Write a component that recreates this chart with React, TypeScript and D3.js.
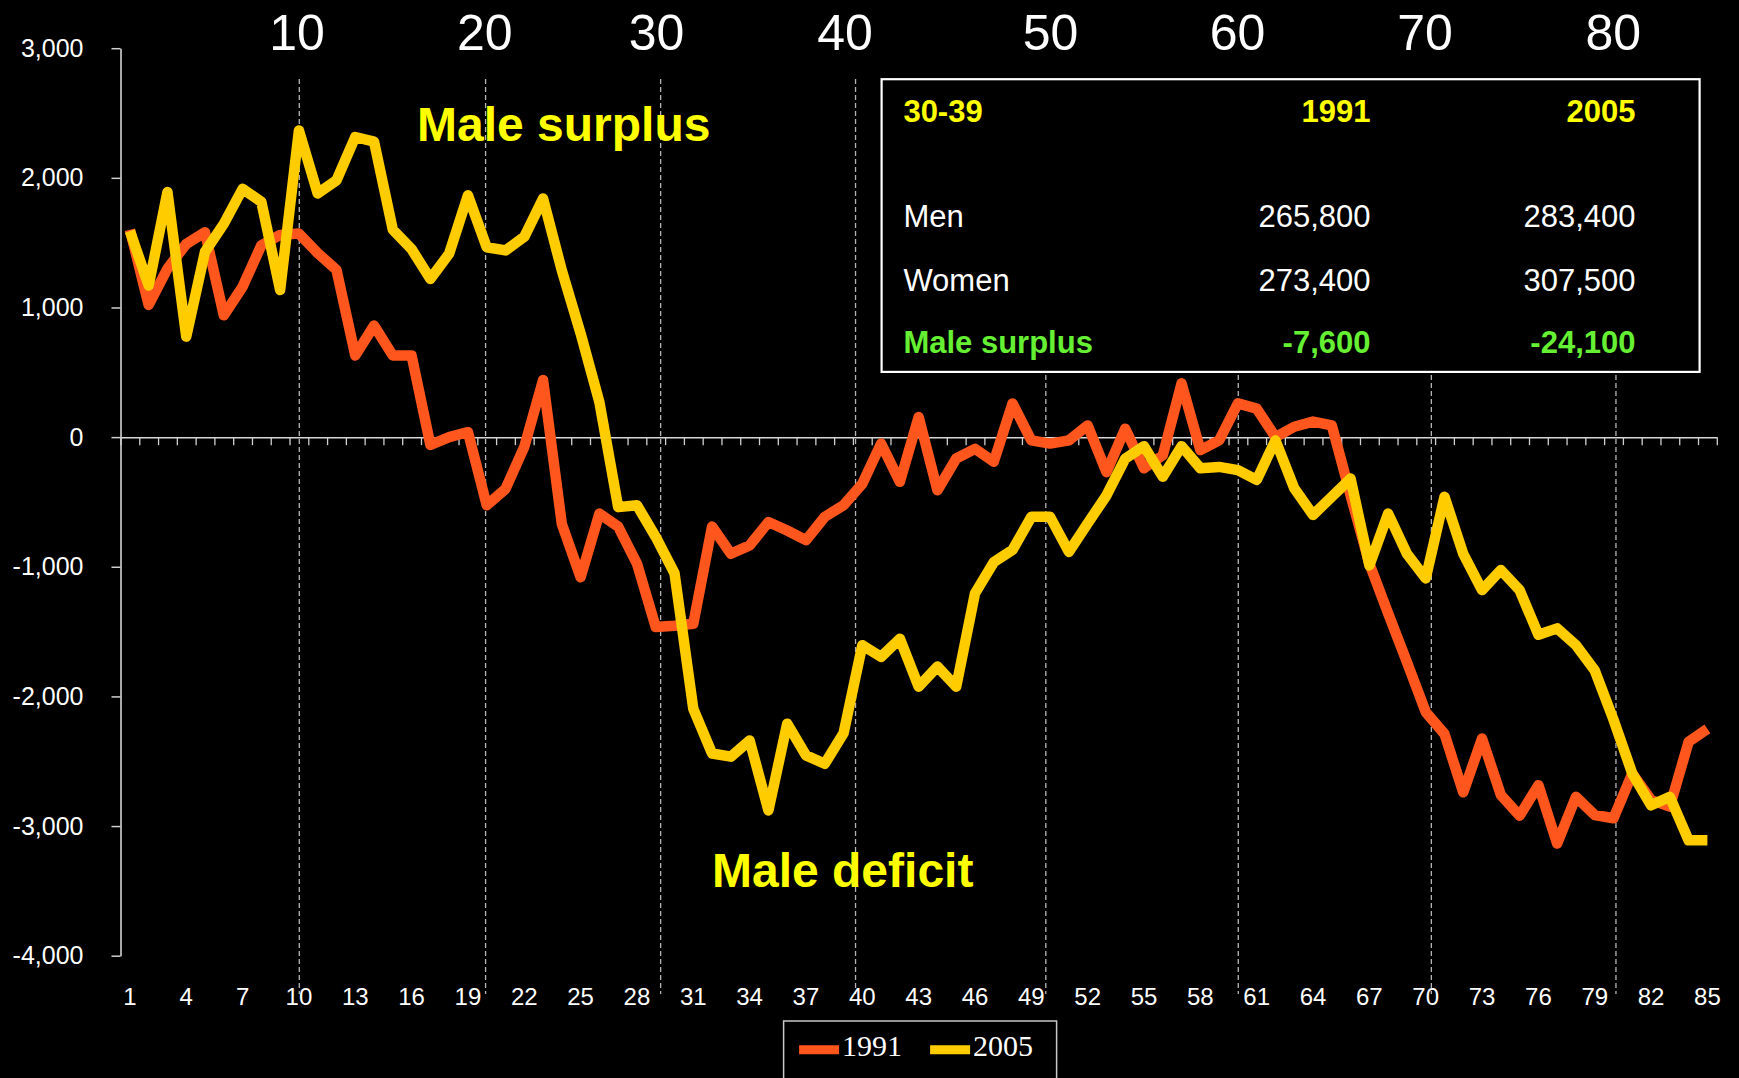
import React, { useEffect, useRef } from 'react';
import * as d3 from 'd3';

// age categories on the x axis (1..85)
const ages = d3.range(1, 86);

// male surplus (men minus women) per age
const surplus1991 = [
  1600, 1020, 1300, 1490, 1580, 940, 1160, 1480, 1560, 1570,
  1420, 1290, 630, 860, 630, 630, -60, 0, 40, -525,
  -400, -75, 440, -670, -1080, -590, -690, -975, -1465, -1455,
  -1440, -690, -900, -835, -655, -720, -795, -615, -525, -360,
  -50, -345, 155, -410, -165, -90, -190, 260, -25, -50,
  -25, 90, -270, 65, -240, -140, 415, -100, -25, 260,
  220, 0, 80, 120, 90, -450, -975, -1360, -1735, -2120,
  -2290, -2740, -2325, -2760, -2920, -2685, -3135, -2775, -2915, -2940,
  -2595, -2800, -2850, -2350, -2250,
];

const surplus2005 = [
  1590, 1170, 1890, 775, 1430, 1645, 1915, 1815, 1135, 2365,
  1880, 1980, 2315, 2280, 1600, 1450, 1220, 1415, 1865, 1465,
  1440, 1545, 1840, 1285, 800, 270, -540, -525, -770, -1050,
  -2095, -2440, -2465, -2340, -2880, -2210, -2455, -2520, -2285, -1605,
  -1695, -1555, -1925, -1770, -1925, -1205, -965, -870, -615, -615,
  -885, -665, -450, -165, -70, -305, -70, -240, -230, -255,
  -330, -25, -395, -600, -460, -320, -990, -590, -900, -1090,
  -460, -900, -1180, -1025, -1180, -1525, -1475, -1605, -1800, -2180,
  -2595, -2840, -2775, -3110, -3110,
];

const yTicks = [3000, 2000, 1000, 0, -1000, -2000, -3000, -4000];

// decade markers drawn over the chart (placed by hand in the original)
const decadeLabels = [10, 20, 30, 40, 50, 60, 70, 80];
const decadeLabelAt = [9.9, 19.9, 29.04, 39.08, 50.02, 59.98, 69.96, 79.99];
const decadeLineAt = [10.02, 19.94, 29.26, 39.64, 49.77, 60.02, 70.3, 80.13];

// inset table
const tableHead = ['30-39', '1991', '2005'];
const tableRows = [
  ['Men', '265,800', '283,400'],
  ['Women', '273,400', '307,500'],
];
const tableTotal = ['Male surplus', '-7,600', '-24,100'];

const seriesNames = ['1991', '2005'];
const seriesColors = ['#FF561E', '#FFCC00'];

const SANS = '"Liberation Sans", Arial, Helvetica, sans-serif';
const SERIF = '"Liberation Serif", "Times New Roman", serif';

const App: React.FC = () => {
  const svgRef = useRef<SVGSVGElement>(null);

  useEffect(() => {
    if (!svgRef.current) return;
    const svg = d3.select(svgRef.current);
    svg.selectAll('*').remove();

    const width = 1739;
    const height = 1078;
    const plot = { left: 120.5, right: 1716.8, top: 48.2, bottom: 955.7 };

    const x = d3.scaleLinear().domain([0.5, 85.5]).range([plot.left, plot.right]);
    const y = d3.scaleLinear().domain([-4000, 3000]).range([plot.bottom, plot.top]);

    // plain hyphen instead of d3's unicode minus
    const fmt = d3.format(',');
    const yFormat = (v: number) => fmt(v).replace('\u2212', '-');

    svg.append('rect').attr('width', width).attr('height', height).attr('fill', '#000');

    // dashed decade guides
    svg
      .selectAll('line.guide')
      .data(decadeLineAt)
      .enter()
      .append('line')
      .attr('class', 'guide')
      .attr('x1', d => x(d))
      .attr('x2', d => x(d))
      .attr('y1', 79)
      .attr('y2', 994)
      .attr('stroke', '#b4b4b4')
      .attr('stroke-width', 1.3)
      .attr('stroke-dasharray', '5,3');

    // decade labels on top
    svg
      .selectAll('text.decade')
      .data(decadeLabels)
      .enter()
      .append('text')
      .attr('class', 'decade')
      .attr('x', (d, i) => x(decadeLabelAt[i]))
      .attr('y', 50)
      .attr('text-anchor', 'middle')
      .style('font-family', SANS)
      .style('font-size', '50px')
      .style('fill', '#fff')
      .text(d => d);

    // y axis
    const yAxis = svg
      .append('g')
      .attr('transform', `translate(${plot.left},0)`)
      .call(
        d3
          .axisLeft(y)
          .tickValues(yTicks)
          .tickFormat(yFormat as any)
          .tickSize(9)
          .tickSizeOuter(0)
          .tickPadding(28)
      );
    yAxis.select('.domain').attr('stroke', '#e0e0e0').attr('stroke-width', 1.5);
    yAxis.selectAll('.tick line').attr('stroke', '#d0d0d0').attr('stroke-width', 1.5);
    yAxis
      .selectAll('.tick text')
      .style('font-family', SANS)
      .style('font-size', '25px')
      .style('fill', '#fff');

    // x axis line at zero, ticks between categories
    const boundaries = d3.range(0, ages.length + 1).map(i => i + 0.5);
    const xAxis = svg
      .append('g')
      .attr('transform', `translate(0,${y(0)})`)
      .call(
        d3
          .axisBottom(x)
          .tickValues(boundaries)
          .tickFormat(() => '')
          .tickSize(8)
          .tickSizeOuter(0)
      );
    xAxis.select('.domain').attr('stroke', '#d8d8d8').attr('stroke-width', 1.5);
    xAxis.selectAll('.tick line').attr('stroke', '#d0d0d0').attr('stroke-width', 1.3);

    // x category labels at the bottom, every third age
    svg
      .selectAll('text.age')
      .data(ages.filter(a => (a - 1) % 3 === 0))
      .enter()
      .append('text')
      .attr('class', 'age')
      .attr('x', d => x(d))
      .attr('y', 1005)
      .attr('text-anchor', 'middle')
      .style('font-family', SANS)
      .style('font-size', '24px')
      .style('fill', '#fff')
      .text(d => d);

    // inset table
    const box = { x: 881.6, y: 79.2, w: 818, h: 292.7 };
    svg
      .append('rect')
      .attr('x', box.x)
      .attr('y', box.y)
      .attr('width', box.w)
      .attr('height', box.h)
      .attr('fill', '#000')
      .attr('stroke', '#fff')
      .attr('stroke-width', 2.2);

    const colX = [903.4, 1370.5, 1635.5];
    const colAnchor = ['start', 'end', 'end'];
    const addRow = (cells: string[], baseline: number, color: string, bold: boolean) => {
      cells.forEach((c, i) => {
        svg
          .append('text')
          .attr('x', colX[i])
          .attr('y', baseline)
          .attr('text-anchor', colAnchor[i])
          .style('font-family', SANS)
          .style('font-size', '31px')
          .style('font-weight', bold ? 'bold' : 'normal')
          .style('fill', color)
          .text(c);
      });
    };
    addRow(tableHead, 122.2, '#FFFF00', true);
    tableRows.forEach((r, i) => addRow(r, 226.8 + i * 64.2, '#fff', false));
    addRow(tableTotal, 353, '#66F033', true);

    // series lines
    const line = d3
      .line<number>()
      .x((d, i) => x(ages[i]))
      .y(d => y(d));

    [surplus1991, surplus2005].forEach((values, k) => {
      svg
        .append('path')
        .datum(values)
        .attr('d', line)
        .attr('fill', 'none')
        .attr('stroke', seriesColors[k])
        .attr('stroke-width', 10.5)
        .attr('stroke-linejoin', 'round')
        .attr('stroke-linecap', 'butt');
    });

    // annotations
    const annotate = (txt: string, ax: number, ay: number) =>
      svg
        .append('text')
        .attr('x', ax)
        .attr('y', ay)
        .style('font-family', SANS)
        .style('font-size', '48px')
        .style('font-weight', 'bold')
        .style('fill', '#FFFF00')
        .text(txt);
    annotate('Male surplus', 417, 140.5);
    annotate('Male deficit', 712, 886.5);

    // legend
    const legend = svg.append('g').attr('transform', 'translate(783.6,1021)');
    legend
      .append('rect')
      .attr('width', 273)
      .attr('height', 62)
      .attr('fill', '#000')
      .attr('stroke', '#c8c8c8')
      .attr('stroke-width', 1.5);
    const itemX = [15.5, 146.5];
    seriesNames.forEach((name, i) => {
      legend
        .append('line')
        .attr('x1', itemX[i])
        .attr('x2', itemX[i] + 40)
        .attr('y1', 28.7)
        .attr('y2', 28.7)
        .attr('stroke', seriesColors[i])
        .attr('stroke-width', 9);
      legend
        .append('text')
        .attr('x', itemX[i] + 43)
        .attr('y', 35)
        .style('font-family', SERIF)
        .style('font-size', '30px')
        .style('fill', '#fff')
        .text(name);
    });
  }, []);

  return (
    <svg
      ref={svgRef}
      width={1739}
      height={1078}
      style={{ position: 'absolute', left: 0, top: 0, display: 'block' }}
    />
  );
};

export default App;
